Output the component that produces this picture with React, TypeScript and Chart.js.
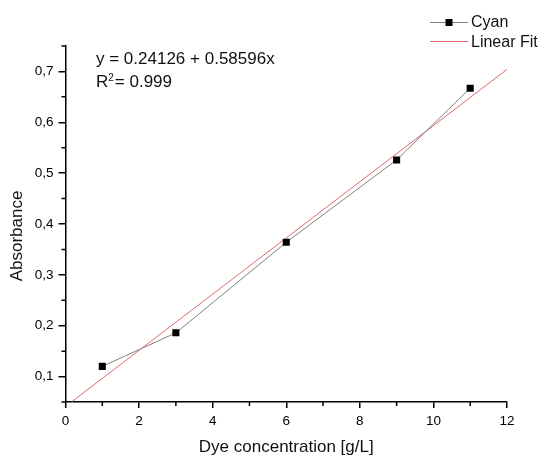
import React, { useEffect, useRef } from 'react';
import { Chart, registerables } from 'chart.js';

Chart.register(...registerables);

// ---- data ----
const cyanX = [1, 3, 6, 9, 11];
const cyanY = [0.12, 0.186, 0.364, 0.526, 0.667];
const fitX = [0.16, 12];
const fitY = [0.05, 0.704];
const xMajorTicks = [0, 2, 4, 6, 8, 10, 12];
const xMinorTicks = [1, 3, 5, 7, 9, 11];
const yMajorTicks = [0.1, 0.2, 0.3, 0.4, 0.5, 0.6, 0.7];
const yMinorTicks = [0.05, 0.15, 0.25, 0.35, 0.45, 0.55, 0.65, 0.75];
const seriesNames = ['Cyan', 'Linear Fit'];
const equationText = 'y = 0.24126 + 0.58596x';
const r2Value = '= 0.999';
const xTitle = 'Dye concentration [g/L]';
const yTitle = 'Absorbance';

const FONT = '"Liberation Sans", Arial, sans-serif';
const DATA_LINE = '#808080';
const FIT_LINE = 'rgb(226,104,104)';

const overlayPlugin = {
  id: 'overlay',
  afterDraw(chart: any) {
    const ctx: CanvasRenderingContext2D = chart.ctx;
    const xs = chart.scales.x;
    const ys = chart.scales.y;
    ctx.save();
    // minor ticks
    ctx.strokeStyle = '#000';
    ctx.lineWidth = 1.5;
    ctx.beginPath();
    xMinorTicks.forEach((v) => {
      const px = xs.getPixelForValue(v);
      ctx.moveTo(px, xs.top);
      ctx.lineTo(px, xs.top + 4);
    });
    yMinorTicks.forEach((v) => {
      const py = ys.getPixelForValue(v);
      ctx.moveTo(ys.right, py);
      ctx.lineTo(ys.right - 4, py);
    });
    ctx.stroke();

    // y axis title
    ctx.fillStyle = '#111';
    ctx.font = `17px ${FONT}`;
    ctx.textAlign = 'center';
    ctx.textBaseline = 'middle';
    ctx.save();
    ctx.translate(17.5, 236);
    ctx.rotate(-Math.PI / 2);
    ctx.fillText(yTitle, 0, 0);
    ctx.restore();

    // equation
    ctx.textAlign = 'left';
    ctx.textBaseline = 'alphabetic';
    ctx.font = `17px ${FONT}`;
    ctx.fillText(equationText, 96, 64);
    ctx.fillText('R', 96, 87);
    const rw = ctx.measureText('R').width;
    ctx.font = `10px ${FONT}`;
    ctx.fillText('2', 96 + rw, 80.5);
    const sw = ctx.measureText('2').width;
    ctx.font = `17px ${FONT}`;
    ctx.fillText(r2Value, 96 + rw + sw + 1, 87);

    // legend
    ctx.lineWidth = 1;
    ctx.strokeStyle = DATA_LINE;
    ctx.beginPath();
    ctx.moveTo(430, 22.5);
    ctx.lineTo(468, 22.5);
    ctx.stroke();
    ctx.fillStyle = '#000';
    ctx.fillRect(445.5, 19, 7, 7);
    ctx.strokeStyle = FIT_LINE;
    ctx.beginPath();
    ctx.moveTo(430, 41.5);
    ctx.lineTo(468, 41.5);
    ctx.stroke();
    ctx.fillStyle = '#111';
    ctx.font = `16px ${FONT}`;
    ctx.fillText(seriesNames[0], 471, 26.5);
    ctx.fillText(seriesNames[1], 471, 46.5);
    ctx.restore();
  },
};

export default function App() {
  const ref = useRef<HTMLCanvasElement | null>(null);
  useEffect(() => {
    if (!ref.current) return;
    const chart = new Chart(ref.current, {
      type: 'scatter',
      data: {
        datasets: [
          {
            label: seriesNames[0],
            data: cyanX.map((x, i) => ({ x, y: cyanY[i] })),
            showLine: true,
            borderColor: DATA_LINE,
            borderWidth: 1,
            pointStyle: 'rect',
            pointRadius: 5,
            pointBorderWidth: 0,
            pointBackgroundColor: '#000',
            pointBorderColor: '#000',
          },
          {
            label: seriesNames[1],
            data: fitX.map((x, i) => ({ x, y: fitY[i] })),
            showLine: true,
            borderColor: FIT_LINE,
            borderWidth: 1,
            pointRadius: 0,
          },
        ],
      },
      options: {
        animation: false,
        responsive: false,
        layout: { padding: { top: 46, right: 35, bottom: 0, left: 0 } },
        plugins: { legend: { display: false }, tooltip: { enabled: false } },
        scales: {
          x: {
            type: 'linear',
            min: 0,
            max: 12,
            afterBuildTicks: (scale: any) => {
              scale.ticks = xMajorTicks.map((value) => ({ value }));
            },
            afterFit: (scale: any) => {
              scale.height = 54;
            },
            border: { display: true, color: '#000', width: 1.5 },
            grid: { drawOnChartArea: false, drawTicks: true, tickLength: 6, color: '#000', lineWidth: 1.5 },
            ticks: {
              padding: 5,
              color: '#000',
              font: { family: FONT, size: 13.5 },
              maxRotation: 0,
              autoSkip: false,
              callback: (v: any) => String(v),
            },
            title: {
              display: true,
              text: xTitle,
              color: '#111',
              font: { family: FONT, size: 17, lineHeight: 1 },
              padding: 0,
            },
          },
          y: {
            type: 'linear',
            min: 0.05,
            max: 0.75,
            afterBuildTicks: (scale: any) => {
              scale.ticks = yMajorTicks.map((value) => ({ value }));
            },
            afterFit: (scale: any) => {
              scale.width = 65.5;
            },
            border: { display: true, color: '#000', width: 1.5 },
            grid: { drawOnChartArea: false, drawTicks: true, tickLength: 7, color: '#000', lineWidth: 1.5 },
            ticks: {
              padding: 5,
              color: '#000',
              font: { family: FONT, size: 13.5 },
              autoSkip: false,
              callback: (v: any) => Number(v).toFixed(1).replace('.', ','),
            },
          },
        },
      },
      plugins: [overlayPlugin],
    });
    return () => chart.destroy();
  }, []);
  return (
    <div style={{ position: 'fixed', left: 0, top: 0, width: 542, height: 456, background: '#fff' }}>
      <canvas ref={ref} width={542} height={456} style={{ display: 'block' }} />
    </div>
  );
}
